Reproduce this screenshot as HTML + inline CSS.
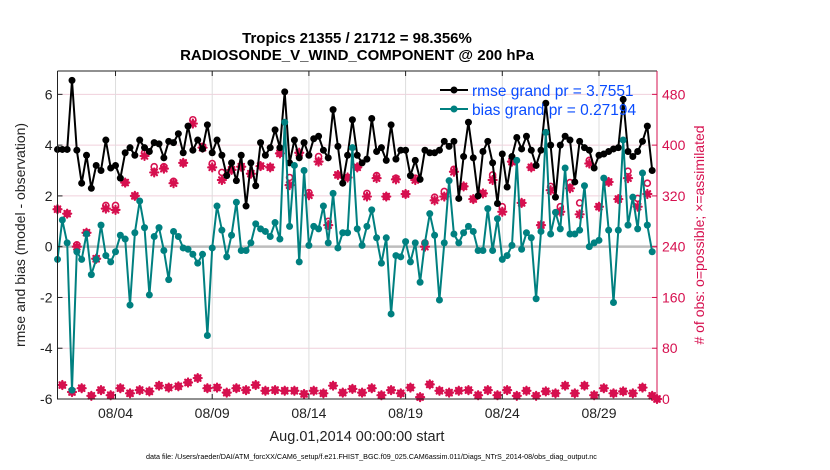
<!DOCTYPE html>
<html><head><meta charset="utf-8"><style>
body{margin:0;background:#fff;}
svg{display:block;font-family:"Liberation Sans",Arial,sans-serif;}
</style></head><body>
<svg id="chart" width="830" height="470" viewBox="0 0 830 470" xmlns="http://www.w3.org/2000/svg">
<rect width="830" height="470" fill="#fff"/>
<text x="357" y="43" text-anchor="middle" font-size="15" font-weight="bold" fill="#000">Tropics 21355 / 21712 = 98.356%</text>
<text x="357" y="60" text-anchor="middle" font-size="15" font-weight="bold" fill="#000">RADIOSONDE_V_WIND_COMPONENT @ 200 hPa</text>
<g id="grid"></g>
<g id="marks"></g>
<g id="axes"></g>
<text transform="translate(25,235) rotate(-90)" text-anchor="middle" font-size="14" fill="#222">rmse and bias (model - observation)</text>
<text transform="translate(704,235) rotate(-90)" text-anchor="middle" font-size="14" fill="#d6104f"># of obs: o=possible; &#215;=assimilated</text>
<text x="357" y="441" text-anchor="middle" font-size="14.5" fill="#222">Aug.01,2014 00:00:00 start</text>
<text x="146" y="459" font-size="7.2" fill="#000">data file: /Users/raeder/DAI/ATM_forcXX/CAM6_setup/f.e21.FHIST_BGC.f09_025.CAM6assim.011/Diags_NTrS_2014-08/obs_diag_output.nc</text>
<g id="legend">
 <line x1="440" y1="90" x2="468" y2="90" stroke="#000" stroke-width="2"/>
 <circle cx="454" cy="90" r="3.5" fill="#000"/>
 <text x="472" y="96" font-size="15.5" fill="#0a4cff">rmse grand pr = 3.7551</text>
 <line x1="440" y1="109" x2="468" y2="109" stroke="#008080" stroke-width="2"/>
 <circle cx="454" cy="109" r="3.5" fill="#008080"/>
 <text x="472" y="115" font-size="15.5" fill="#0a4cff">bias grand pr = 0.27194</text>
</g>
</svg>
<script>
const rmse=[3.83,3.83,3.83,6.55,3.8,2.5,3.6,2.3,3.2,3.0,4.2,3.1,3.2,2.7,3.7,3.9,3.6,4.2,3.9,3.75,4.1,4.05,3.5,4.15,4.1,4.45,3.7,4.75,3.8,4.2,3.85,4.8,3.7,4.2,3.6,2.8,3.3,2.6,3.6,1.6,3.3,2.4,4.1,
3.6,3.9,4.6,3.9,6.1,3.3,4.2,3.5,4.1,3.6,4.25,4.35,3.8,3.5,5.4,3.95,2.5,3.6,5.0,3.6,3.3,3.45,5.05,3.75,3.9,3.4,4.8,3.45,3.8,3.8,2.8,3.4,2.65,3.8,3.7,3.7,3.8,4.15,3.95,4.15,1.9,
3.55,4.9,3.5,2.0,3.75,4.15,3.3,1.7,3.65,2.35,3.55,4.3,3.85,4.35,3.8,3.2,3.8,5.65,4.0,1.95,4.0,4.35,4.2,2.55,4.15,3.9,3.8,3.1,3.6,3.65,3.75,3.85,3.9,5.8,3.75,3.55,3.75,4.15,4.75,3.0];
const bias=[-0.5,1.05,0.15,-5.65,-0.2,-0.5,0.5,-1.1,-0.5,0.85,-0.35,-0.6,-0.2,0.45,0.3,-2.3,0.55,1.8,0.75,-1.9,0.4,0.75,-0.15,-1.3,0.6,0.4,-0.05,-0.1,-0.3,-0.65,-0.3,-3.5,-0.05,1.6,0.65,-0.4,0.45,1.75,-0.15,-0.15,0.15,0.9,0.7,
0.6,0.4,0.95,0.3,4.9,0.8,3.2,-0.6,3.0,0.05,0.8,0.7,1.6,0.15,2.1,-0.05,0.55,0.55,3.9,0.7,0.05,0.8,1.45,0.35,-0.65,0.35,-2.65,-0.35,-0.4,0.2,-0.6,0.15,-1.4,0.15,1.3,0.45,-2.1,0.15,2.6,0.5,0.15,
0.55,0.8,0.6,-0.15,-0.15,1.5,-0.15,1.1,-0.5,-0.35,0.05,3.4,-0.1,0.55,0.35,-2.05,0.6,4.5,0.5,1.35,0.7,3.1,0.5,0.5,0.65,2.4,0.0,0.15,0.25,2.7,0.65,-2.2,0.65,4.2,0.85,1.95,0.7,2.9,0.85,-0.2];
const assimilated=[299,22,292,11,240,17,262,5,221,14,300,6,298,17,341,9,320,14,383,12,357,21,363,18,340,20,372,26,434,33,396,17,365,18,345,10,361,17,366,14,355,22,367,
13,365,14,387,13,337,13,388,8,321,13,374,9,274,21,353,10,349,16,365,10,319,17,348,6,319,14,346,9,323,18,345,3,240,23,313,13,319,10,358,13,
335,14,315,6,324,14,345,6,295,14,374,5,309,13,365,5,274,12,329,9,295,21,332,9,291,21,371,6,303,17,342,9,315,12,348,9,303,18,323,5,0];
const possible=[299,22,292,11,243,17,262,5,221,14,305,6,305,17,341,9,320,14,388,12,366,21,366,18,343,20,372,26,440,33,398,17,371,18,357,10,361,17,366,14,355,22,367,
13,365,14,387,13,349,13,388,8,325,13,382,9,280,21,353,10,349,16,365,10,324,17,352,6,319,14,348,9,323,18,348,3,246,23,318,13,327,10,362,13,
335,14,315,6,324,14,353,6,303,14,374,5,309,13,365,5,274,12,335,9,303,21,341,9,309,21,376,6,303,17,342,9,315,12,359,9,316,18,340,5,0];
const leftTicks=[-6,-4,-2,0,2,4,6];
const rightTicks=[0,80,160,240,320,400,480];
const dateTicks=["08/04","08/09","08/14","08/19","08/24","08/29"];
const dateTickDays=[3,8,13,18,23,28];
const stepDays=0.25;

const NS="http://www.w3.org/2000/svg";
const X0=57.5,X1=657,Y0=71,Y1=399,VMIN=-6,VMAX=6.92,DAYS=31;
function xDay(d){return X0+(X1-X0)*d/DAYS;}
function yL(v){return Y1-(v-VMIN)*(Y1-Y0)/(VMAX-VMIN);}
function yR(c){return yL(c/40-6);}
function mk(tag,attrs,parent){const e=document.createElementNS(NS,tag);for(const k in attrs)e.setAttribute(k,attrs[k]);parent.appendChild(e);return e;}
const grid=document.getElementById('grid'),marks=document.getElementById('marks'),axes=document.getElementById('axes');
const PINK="#d6104f";
leftTicks.forEach(v=>{const l=mk('line',{x1:X0,x2:X1,y1:yL(v),y2:yL(v),stroke:'#f0d0dc','stroke-width':1},grid);

});
dateTickDays.forEach(d=>{const l=mk('line',{x1:xDay(d),x2:xDay(d),y1:Y0,y2:Y1,stroke:'#dddddd','stroke-width':1},grid);

});
const zl=mk('line',{x1:X0,x2:X1,y1:yL(0),y2:yL(0),stroke:'#bdbdbd','stroke-width':2.5},grid);


function series(vals,color,name){
 const pts=vals.map((v,i)=>xDay(i*stepDays).toFixed(1)+','+yL(v).toFixed(1)).join(' ');
 const pl=mk('polyline',{points:pts,fill:'none',stroke:color,'stroke-width':2,'stroke-linejoin':'round'},marks);
 
 
 vals.forEach((v,i)=>{const c=mk('circle',{cx:xDay(i*stepDays),cy:yL(v),r:3.5,fill:color},marks);
 
 });
}
function star(cx,cy){
 const g=mk('g',{stroke:PINK,'stroke-width':2.2,'stroke-linecap':'round'},marks);
 
 
 const r=4;
 mk('line',{x1:cx-r,y1:cy,x2:cx+r,y2:cy},g);
 mk('line',{x1:cx,y1:cy-r,x2:cx,y2:cy+r},g);
 const q=2.8;
 mk('line',{x1:cx-q,y1:cy-q,x2:cx+q,y2:cy+q},g);
 mk('line',{x1:cx-q,y1:cy+q,x2:cx+q,y2:cy-q},g);
}
possible.forEach((c,i)=>{const o=mk('circle',{cx:xDay(i*stepDays),cy:yR(c),r:3,fill:'#fff',stroke:PINK,'stroke-width':1.6},marks);

});
assimilated.forEach((c,i)=>star(xDay(i*stepDays),yR(c)));
series(rmse,'#000','rmse');
series(bias,'#008080','bias');
const frame=mk('path',{d:`M${X0},${Y0}V${Y1}H${X1}`,fill:'none',stroke:'#222','stroke-width':1},axes);


const topBorder=mk('line',{x1:X0,x2:X1,y1:Y0,y2:Y0,stroke:'#222','stroke-width':1},axes);


const rightAxis=mk('line',{x1:X1,x2:X1,y1:Y0,y2:Y1,stroke:PINK,'stroke-width':1},axes);


leftTicks.forEach(v=>{mk('line',{x1:X0,x2:X0+5,y1:yL(v),y2:yL(v),stroke:'#222'},axes);
const t=mk('text',{x:X0-5,y:yL(v)+5,'text-anchor':'end','font-size':14,fill:'#222'},axes);t.textContent=v;

});
rightTicks.forEach(c=>{mk('line',{x1:X1-5,x2:X1,y1:yR(c),y2:yR(c),stroke:PINK},axes);
const t=mk('text',{x:X1+5,y:yR(c)+5,'font-size':14,fill:PINK},axes);t.textContent=c;

});
dateTicks.forEach((s,i)=>{const x=xDay(dateTickDays[i]);mk('line',{x1:x,x2:x,y1:Y1,y2:Y1-5,stroke:'#222'},axes);mk('line',{x1:x,x2:x,y1:Y0,y2:Y0+5,stroke:'#222'},axes);
const t=mk('text',{x:x,y:418,'text-anchor':'middle','font-size':14,fill:'#222'},axes);t.textContent=s;

});
</script>
</body></html>
